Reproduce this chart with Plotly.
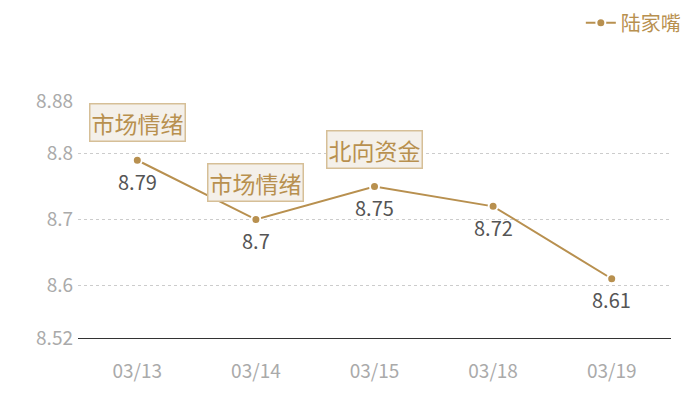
import plotly.graph_objects as go

dates = ["03/13", "03/14", "03/15", "03/18", "03/19"]
values = [8.79, 8.70, 8.75, 8.72, 8.61]
series_name = "陆家嘴"

# event tags drawn above some points
tag_dates = ["03/13", "03/14", "03/15"]
tag_values = [8.79, 8.70, 8.75]
tag_texts = ["市场情绪", "市场情绪", "北向资金"]

y_ticks = [8.52, 8.6, 8.7, 8.8, 8.88]

gold = "#b8904f"
font = "Noto Sans CJK SC"

fig = go.Figure()
fig.add_trace(go.Scatter(
    x=dates, y=values, name=series_name,
    mode="lines+markers",
    line=dict(color=gold, width=2),
    marker=dict(size=9, color=gold, line=dict(color="white", width=2)),
    cliponaxis=False,
))

# value labels under the points
for d, v in zip(dates, values):
    fig.add_annotation(
        x=d, y=v, text=str(v), showarrow=False,
        yanchor="middle", yshift=-21,
        font=dict(size=20, color="#555555", family=font),
    )

for d, v, t in zip(tag_dates, tag_values, tag_texts):
    fig.add_annotation(
        x=d, y=v, text=t, showarrow=False,
        yanchor="bottom", yshift=18,
        font=dict(size=23, color=gold, family=font),
        bgcolor="#f4f0ea", bordercolor="#d6bf97", borderwidth=1.5, borderpad=1,
    )

fig.update_layout(
    width=700, height=400,
    # page body has an 8px margin, so shift everything back by 8
    margin=dict(l=70, r=37, t=93, b=70, autoexpand=False),
    paper_bgcolor="white", plot_bgcolor="white",
    font=dict(family=font),
    showlegend=True,
    legend=dict(
        x=1.025, y=1.33, xanchor="right", yanchor="middle",
        font=dict(size=20, color=gold, family=font),
        itemwidth=30,
    ),
)
fig.update_xaxes(
    type="category", range=[-0.5, len(dates) - 0.5], showgrid=False,
    showline=True, linecolor="#333333", linewidth=1,
    ticks="", ticklabelstandoff=16,
    tickfont=dict(size=19, color="#aaaaaa", family=font),
)
fig.update_yaxes(
    range=[8.52, 8.88], tickvals=y_ticks,
    ticktext=[str(t) for t in y_ticks],
    showgrid=True, gridcolor="#cccccc", griddash="dot", gridwidth=1,
    zeroline=False, showline=False, ticks="", ticklabelstandoff=4,
    tickfont=dict(size=19, color="#aaaaaa", family=font),
)

fig.write_html("out.html")
